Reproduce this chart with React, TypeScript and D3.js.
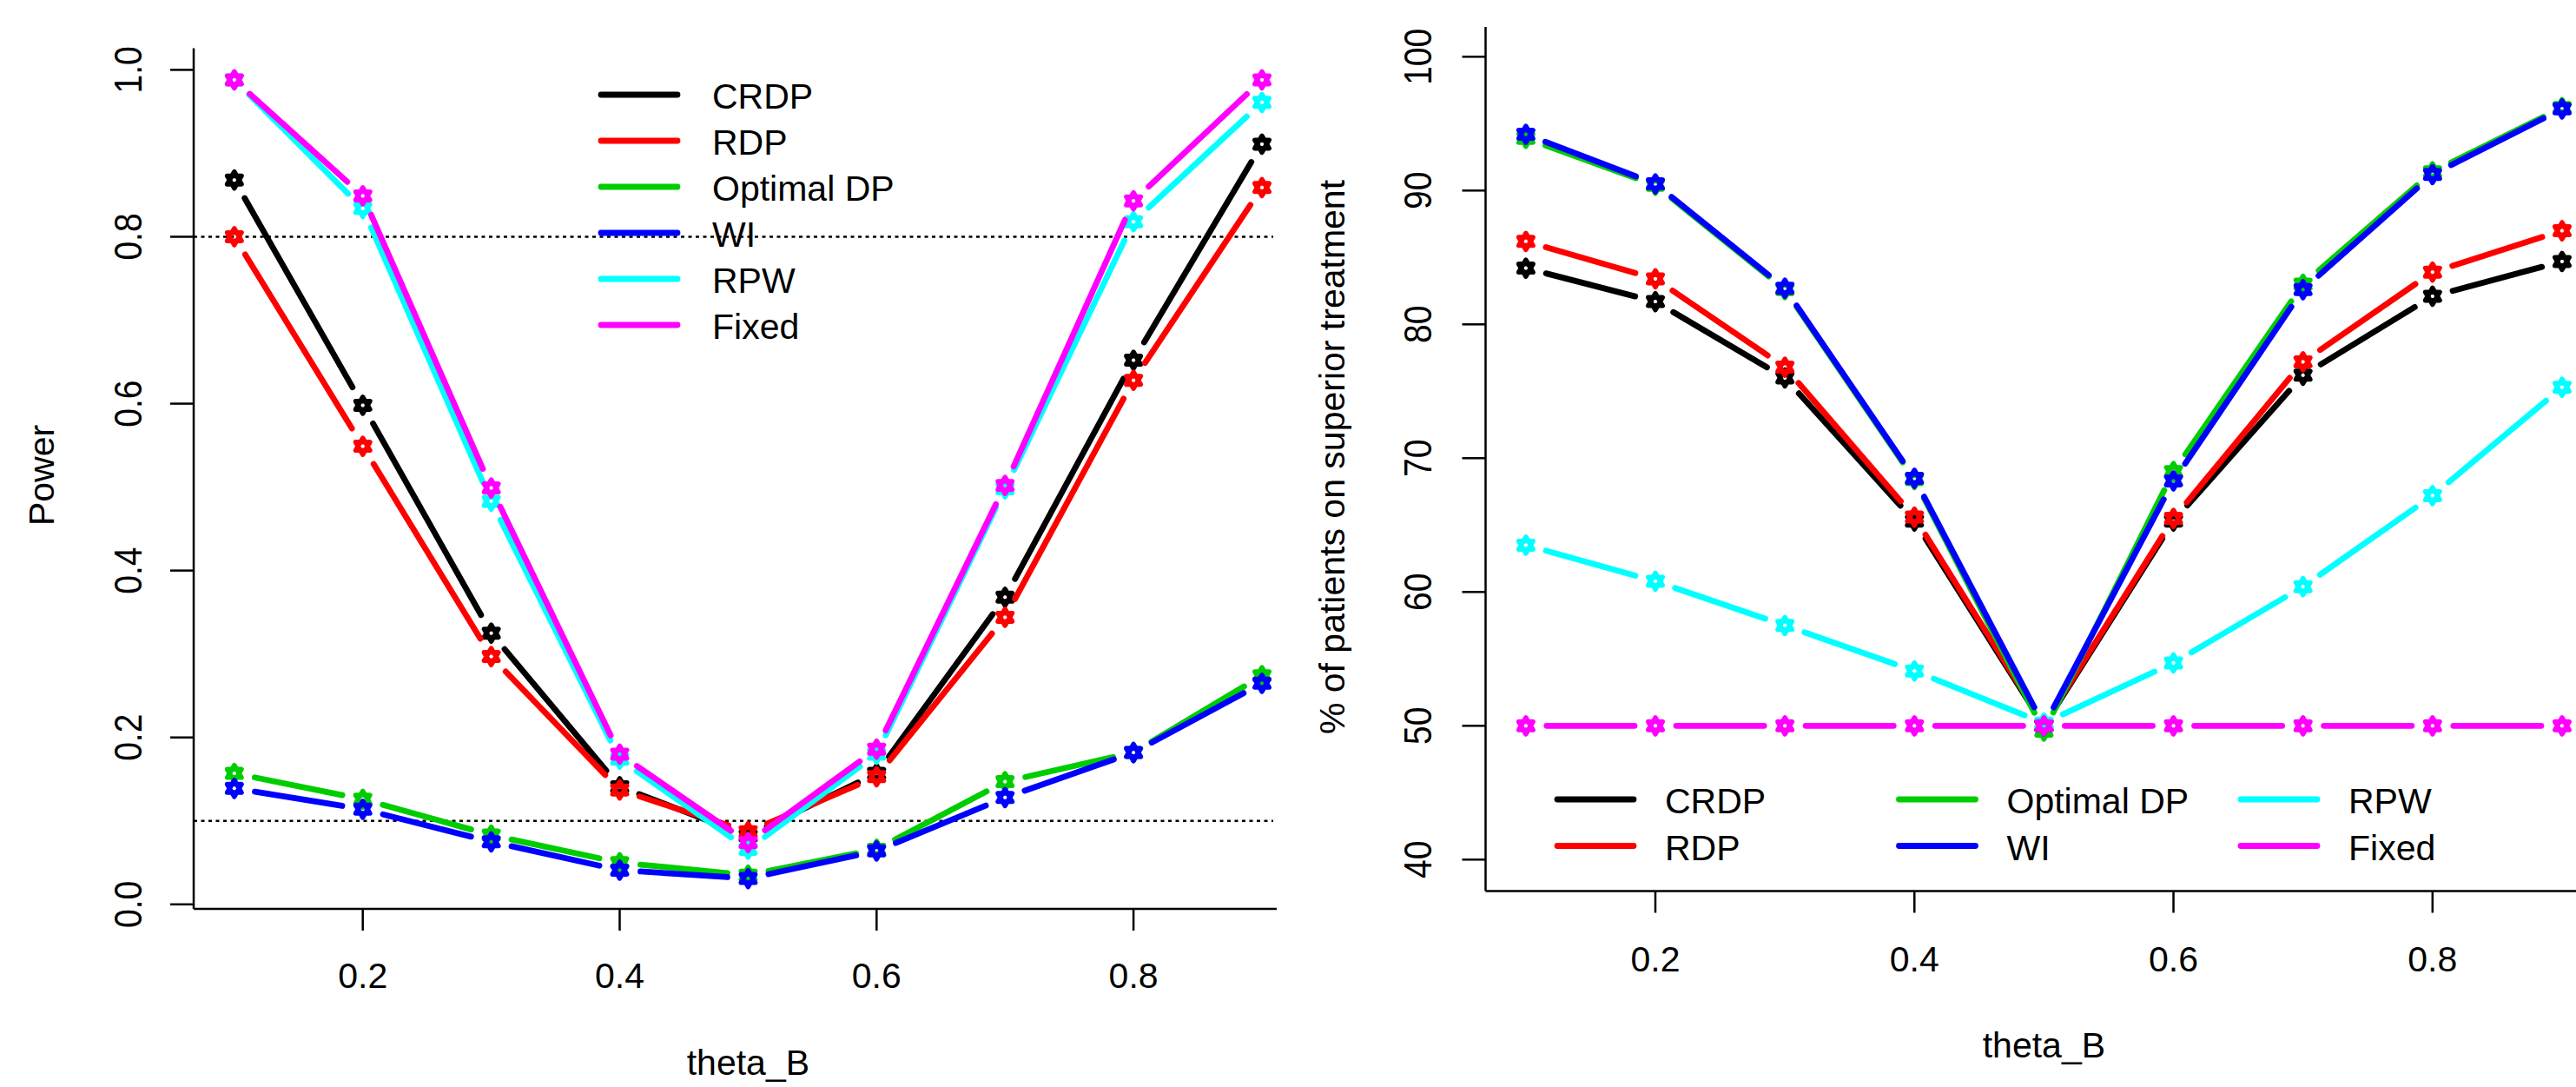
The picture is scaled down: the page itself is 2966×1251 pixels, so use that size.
import React, { useEffect } from 'react';
import * as d3 from 'd3';

// ---------- data ----------
const thetaB = [0.1, 0.2, 0.3, 0.4, 0.5, 0.6, 0.7, 0.8, 0.9];
const seriesNames = ['CRDP', 'RDP', 'Optimal DP', 'WI', 'RPW', 'Fixed'];
const seriesColors = ['#000000', '#FF0000', '#00CD00', '#0000FF', '#00FFFF', '#FF00FF'];

const powerCRDP = [0.868, 0.598, 0.325, 0.141, 0.082, 0.157, 0.368, 0.652, 0.911];
const powerRDP = [0.800, 0.549, 0.297, 0.137, 0.087, 0.153, 0.344, 0.628, 0.859];
const powerOptimal = [0.157, 0.126, 0.083, 0.050, 0.035, 0.066, 0.147, 0.182, 0.274];
const powerWI = [0.139, 0.114, 0.075, 0.041, 0.031, 0.064, 0.128, 0.182, 0.265];
const powerRPW = [0.988, 0.834, 0.483, 0.174, 0.066, 0.180, 0.498, 0.818, 0.961];
const powerFixed = [0.988, 0.849, 0.499, 0.180, 0.074, 0.186, 0.502, 0.843, 0.988];

const pctCRDP = [84.2, 81.7, 76.0, 65.3, 50.0, 65.3, 76.2, 82.1, 84.7];
const pctRDP = [86.2, 83.4, 76.8, 65.6, 50.1, 65.5, 77.2, 83.9, 87.0];
const pctOptimal = [93.9, 90.4, 82.6, 68.4, 49.6, 69.0, 83.0, 91.4, 96.2];
const pctWI = [94.2, 90.5, 82.7, 68.5, 50.0, 68.3, 82.6, 91.2, 96.1];
const pctRPW = [63.5, 60.8, 57.5, 54.1, 50.2, 54.7, 60.4, 67.2, 75.3];
const pctFixed = [50, 50, 50, 50, 50, 50, 50, 50, 50];

const xTicks = [0.2, 0.4, 0.6, 0.8];
const powerTicks = [0.0, 0.2, 0.4, 0.6, 0.8, 1.0];
const pctTicks = [40, 50, 60, 70, 80, 90, 100];
const powerRefLines = [0.1, 0.8];

const xLabel = 'theta_B';
const powerLabel = 'Power';
const pctLabel = '% of patients on superior treatment';

// ---------- drawing helpers ----------
const FONT = '"Liberation Sans", Arial, Helvetica, sans-serif';
const LW = 6.8;
const GAP = 24;

function hexagramPath(cx: number, cy: number, r: number) {
  const c = Math.cos(Math.PI / 6) * r;
  const up = `M${cx},${cy - r}L${cx + c},${cy + r / 2}L${cx - c},${cy + r / 2}Z`;
  const dn = `M${cx},${cy + r}L${cx + c},${cy - r / 2}L${cx - c},${cy - r / 2}Z`;
  return up + dn;
}

function Series({ xs, ys, xScale, yScale, color }: any) {
  const pts = xs.map((x: number, i: number) => [xScale(x), yScale(ys[i])]);
  const segs: any[] = [];
  for (let i = 0; i < pts.length - 1; i++) {
    const [x1, y1] = pts[i];
    const [x2, y2] = pts[i + 1];
    const dx = x2 - x1, dy = y2 - y1;
    const len = Math.hypot(dx, dy);
    if (len <= 2 * GAP) continue;
    const ux = dx / len, uy = dy / len;
    segs.push(
      <line key={'s' + i} x1={x1 + ux * GAP} y1={y1 + uy * GAP} x2={x2 - ux * GAP} y2={y2 - uy * GAP}
        stroke={color} strokeWidth={LW} strokeLinecap="round" />
    );
  }
  return (
    <g>
      {segs}
      {pts.map((p: number[], i: number) => (
        <path key={'p' + i} d={hexagramPath(p[0], p[1], 9.5)} fill="none" stroke={color}
          strokeWidth={5.5} strokeLinejoin="round" />
      ))}
    </g>
  );
}

function Panel({ xScale, yScale, yTicks, yFmt, dataSets, axisLeft, axisTop, axisBottom, axisRight,
  yTickBase, xTickBase, xTitleBase, yTitleBase, yTitleY, yTitle, refLines, legend }: any) {
  return (
    <g>
      {refLines && refLines.map((v: number) => (
        <line key={'r' + v} x1={axisLeft} x2={axisRight - 4} y1={yScale(v)} y2={yScale(v)}
          stroke="#000" strokeWidth={2.5} strokeDasharray="4 4.5" />
      ))}
      {/* axes */}
      <line x1={axisLeft} x2={axisLeft} y1={axisTop} y2={axisBottom} stroke="#000" strokeWidth={2.5} />
      <line x1={axisLeft} x2={axisRight} y1={axisBottom} y2={axisBottom} stroke="#000" strokeWidth={2.5} />
      {yTicks.map((t: number) => (
        <g key={'yt' + t}>
          <line x1={axisLeft - 27} x2={axisLeft} y1={yScale(t)} y2={yScale(t)} stroke="#000" strokeWidth={2.5} />
          <text transform={`translate(${yTickBase},${yScale(t)}) rotate(-90) scale(1,1.15)`} textAnchor="middle"
            fontFamily={FONT} fontSize={39} fill="#000">{yFmt(t)}</text>
        </g>
      ))}
      {xTicks.map((t: number) => (
        <g key={'xt' + t}>
          <line x1={xScale(t)} x2={xScale(t)} y1={axisBottom} y2={axisBottom + 25} stroke="#000" strokeWidth={2.5} />
          <text x={xScale(t)} y={xTickBase} textAnchor="middle" fontFamily={FONT} fontSize={41} fill="#000">
            {d3.format('.1f')(t)}
          </text>
        </g>
      ))}
      <text x={xScale(0.5)} y={xTitleBase} textAnchor="middle" fontFamily={FONT} fontSize={41} fill="#000">{xLabel}</text>
      <text transform={`translate(${yTitleBase},${yTitleY}) rotate(-90)`} textAnchor="middle"
        fontFamily={FONT} fontSize={41} fill="#000">{yTitle}</text>
      {dataSets.map((ys: number[], i: number) => (
        <Series key={'d' + i} xs={thetaB} ys={ys} xScale={xScale} yScale={yScale} color={seriesColors[i]} />
      ))}
      {legend.map((it: any, i: number) => (
        <g key={'lg' + i}>
          <line x1={it.x} x2={it.x + 88} y1={it.y} y2={it.y} stroke={seriesColors[i]} strokeWidth={LW} strokeLinecap="round" />
          <text x={it.x + it.tx} y={it.y + 16} fontFamily={FONT} fontSize={41} fill="#000">{seriesNames[i]}</text>
        </g>
      ))}
    </g>
  );
}

export default function App() {
  useEffect(() => {
    document.body.style.margin = '0';
    document.body.style.overflow = 'hidden';
  }, []);

  const W = 2966, H = 1251;

  const xL = d3.scaleLinear().domain([0.2, 0.8]).range([417.7, 1305.1]);
  const yL = d3.scaleLinear().domain([0, 1]).range([1040.8, 80.4]);
  const xR = d3.scaleLinear().domain([0.2, 0.8]).range([1906, 2800.8]);
  const yR = d3.scaleLinear().domain([40, 100]).range([989.3, 65.3]);

  const leftLegend = seriesNames.map((_, i) => ({ x: 692, y: 109 + i * 53, tx: 128 }));
  const rightLegend = seriesNames.map((_, i) => ({
    x: 1793 + Math.floor(i / 2) * 393.5,
    y: 920 + (i % 2) * 53.5,
    tx: 124,
  }));

  return (
    <svg width={W} height={H} viewBox={`0 0 ${W} ${H}`} style={{ position: 'absolute', left: 0, top: 0, display: 'block', background: '#fff' }}>
      <rect x={0} y={0} width={W} height={H} fill="#fff" />
      <Panel xScale={xL} yScale={yL} yTicks={powerTicks} yFmt={d3.format('.1f')}
        dataSets={[powerCRDP, powerRDP, powerOptimal, powerWI, powerRPW, powerFixed]}
        axisLeft={223} axisTop={55.6} axisBottom={1046} axisRight={1470}
        yTickBase={163} xTickBase={1137} xTitleBase={1237} yTitleBase={62} yTitleY={547}
        yTitle={powerLabel} refLines={powerRefLines} legend={leftLegend} />
      <Panel xScale={xR} yScale={yR} yTicks={pctTicks} yFmt={d3.format('d')}
        dataSets={[pctCRDP, pctRDP, pctOptimal, pctWI, pctRPW, pctFixed]}
        axisLeft={1710.5} axisTop={31} axisBottom={1025.5} axisRight={2966}
        yTickBase={1648} xTickBase={1117.5} xTitleBase={1217} yTitleBase={1548} yTitleY={526}
        yTitle={pctLabel} refLines={null} legend={rightLegend} />
    </svg>
  );
}
